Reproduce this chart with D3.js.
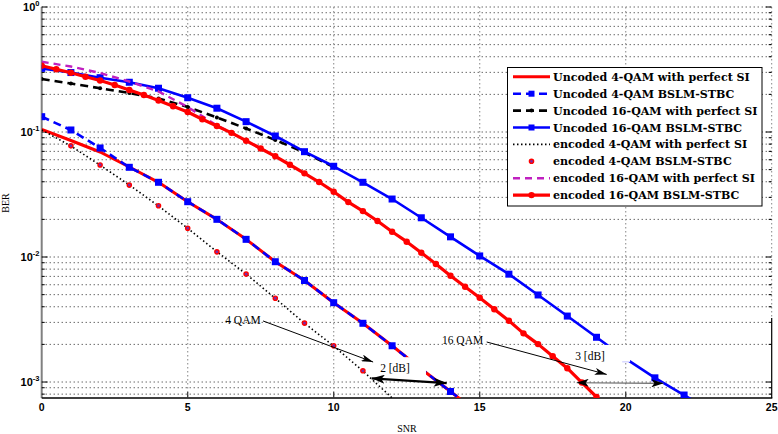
<!DOCTYPE html>
<html><head><meta charset="utf-8">
<script src="https://cdn.jsdelivr.net/npm/d3@7"></script>
<style>body{margin:0;background:#fff}svg{display:block}</style>
</head><body><svg id="c" width="778" height="434"></svg>
<script>
// ---------------- DATA ----------------
const xTicks = [0, 5, 10, 15, 20, 25];
const yMajorTicks = [1e-3, 1e-2, 1e-1, 1];
const yTickExponents = ["-3", "-2", "-1", "0"];

const snrU4 = [0,1,2,3,4,5,6,7,8,9,10,11,12,13,14,15];
const uncoded4PerfectSI = [0.1051,0.0855,0.0692,0.0525,0.0396,0.0277,0.0200,0.01385,0.00917,0.00649,0.00431,0.00295,0.00195,0.00127,0.00084,0.00055];
const uncoded4BSLM = [0.1326,0.1038,0.0745,0.0522,0.0396,0.0277,0.02002,0.01385,0.00917,0.00649,0.00431,0.00295,0.00195,0.00127,0.00084,0.00055];

const snrU16P = [0,1,2,3,4,5,6,7,8,9,10];
const uncoded16PerfectSI = [0.2655,0.2443,0.2237,0.2051,0.1854,0.1585,0.1306,0.1067,0.0863,0.0686,0.0525];

const snrU16B = [0,1,2,3,4,5,6,7,8,9,10,11,12,13,14,15,16,17,18,19,20,21,22,23];
const uncoded16BSLM = [0.323,0.299,0.272,0.250,0.224,0.188,0.155,0.121,0.0929,0.0696,0.0532,0.0396,0.0291,0.0206,0.0145,0.0102,0.00729,0.00497,0.00337,0.00228,0.00154,0.00108,0.000787,0.00057];

const snrE4P = [0,1,2,3,4,5,6,7,8,9,10,11,12];
const encoded4PerfectSI = [0.1038,0.0773,0.0543,0.0377,0.0256,0.01697,0.01102,0.00731,0.00467,0.00295,0.00194,0.001225,0.000745];

const snrE4B = [1,2,3,4,5,6,7,8,9,10,11];
const encoded4BSLM = [0.0775,0.0545,0.0376,0.0257,0.0170,0.0110,0.0073,0.00468,0.00296,0.00195,0.00123];

const snrE16P = [0,1,2,3,4,5,6,7,8];
const encoded16PerfectSI = [0.365,0.334,0.2965,0.2535,0.2109,0.1585,0.113,0.0852,0.0639];

const snrE16B = [0,0.5,1,1.5,2,2.5,3,3.5,4,4.5,5,5.5,6,6.5,7,7.5,8,8.5,9,9.5,10,10.5,11,11.5,12,12.5,13,13.5,14,14.5,15,15.5,16,16.5,17,17.5,18,18.5,19];
const encoded16BSLM = [0.339,0.3174,0.298,0.277,0.258,0.2377,0.2168,0.1977,0.1786,0.1606,0.1445,0.1264,0.1117,0.0985,0.0852,0.0738,0.0639,0.0547,0.0467,0.0398,0.0333,0.0275,0.0233,0.0194,0.01594,0.01326,0.01082,0.00879,0.00709,0.00579,0.00472,0.00382,0.00309,0.00245,0.00201,0.00161,0.00129,0.00099,0.000759];

const legendLabels = ["Uncoded 4-QAM with perfect SI","Uncoded 4-QAM BSLM-STBC","Uncoded 16-QAM with perfect SI","Uncoded 16-QAM BSLM-STBC","encoded 4-QAM with perfect SI","encoded 4-QAM BSLM-STBC","encoded 16-QAM with perfect SI","encoded 16-QAM BSLM-STBC"];

// ---------------- CHART ----------------
const svg = d3.select("#c");
const x = d3.scaleLinear().domain([0, 25]).range([41.7, 771.7]);
const y = d3.scaleLog().domain([7.45e-4, 1]).range([398, 7]);
const X0 = x.range()[0], X1 = x.range()[1], Y0 = y.range()[0], Y1 = y.range()[1];

svg.append("rect").attr("width", 778).attr("height", 434).attr("fill", "#fff");

const defs = svg.append("defs");
defs.append("clipPath").attr("id", "plotclip").append("rect")
  .attr("x", X0).attr("y", Y1).attr("width", X1 - X0).attr("height", Y0 - Y1);
function arrowMarker(id, len, wid, orient) {
  defs.append("marker").attr("id", id).attr("markerUnits", "userSpaceOnUse")
    .attr("markerWidth", len).attr("markerHeight", wid)
    .attr("refX", len).attr("refY", wid / 2).attr("orient", orient)
    .append("path").attr("d", `M0,0 L${len},${wid/2} L0,${wid} L${len*0.25},${wid/2} Z`).attr("fill", "#000");
}
arrowMarker("ah", 12, 7, "auto");
arrowMarker("ahBig", 13, 9, "auto");
arrowMarker("ahBigS", 13, 9, "auto-start-reverse");
arrowMarker("ahMid", 12, 8, "auto");
arrowMarker("ahMidS", 12, 8, "auto-start-reverse");

// grid
const grid = svg.append("g");
grid.selectAll("line.h").data(y.ticks()).join("line")
  .attr("x1", X0).attr("x2", X1).attr("y1", d => y(d)).attr("y2", d => y(d))
  .attr("stroke", "#000").attr("stroke-width", 1).attr("stroke-dasharray", "1,3").attr("opacity", 0.85);
grid.selectAll("line.v").data(xTicks.filter(d => d > 0 && d < 25)).join("line")
  .attr("x1", d => x(d)).attr("x2", d => x(d)).attr("y1", Y1).attr("y2", Y0)
  .attr("stroke", "#999").attr("stroke-width", 1.2).attr("stroke-dasharray", "1.5,2.5");

// axes
const ax = svg.append("g");
ax.append("line").attr("x1", X0).attr("x2", X0).attr("y1", Y1).attr("y2", Y0).attr("stroke", "#808080").attr("stroke-width", 2);
ax.append("line").attr("x1", X1).attr("x2", X1).attr("y1", Y1).attr("y2", 318).attr("stroke", "#888").attr("stroke-width", 1).attr("stroke-dasharray", "1.5,2.5");
ax.append("line").attr("x1", X1).attr("x2", X1).attr("y1", 318).attr("y2", Y0).attr("stroke", "#000").attr("stroke-width", 1.2);
ax.append("line").attr("x1", X0).attr("x2", X1 + 0.6).attr("y1", Y0).attr("y2", Y0).attr("stroke", "#000").attr("stroke-width", 1.5);
// y ticks
ax.selectAll("line.yt").data(y.ticks()).join("line")
  .attr("x1", X0).attr("x2", d => X0 + (yMajorTicks.includes(d) ? 6 : 3))
  .attr("y1", d => y(d)).attr("y2", d => y(d)).attr("stroke", "#000");
ax.selectAll("line.yr").data(y.ticks()).join("line")
  .attr("x1", X1).attr("x2", d => X1 - (yMajorTicks.includes(d) ? 6 : 3))
  .attr("y1", d => y(d)).attr("y2", d => y(d)).attr("stroke", "#000");
ax.selectAll("line.xt").data(xTicks.filter(d => d > 0 && d < 25)).join("line")
  .attr("x1", d => x(d)).attr("x2", d => x(d)).attr("y1", Y0).attr("y2", Y0 - 6)
  .attr("stroke", "#333").attr("stroke-width", 1.2);
// tick labels
ax.selectAll("text.xl").data(xTicks).join("text")
  .attr("x", d => x(d)).attr("y", 411).attr("text-anchor", "middle")
  .attr("font-family", "Liberation Sans, Arial, sans-serif").attr("font-size", 10.5).attr("font-weight", "bold")
  .text(d => d);
const yl = ax.selectAll("text.yl").data(yMajorTicks).join("text")
  .attr("x", 39.5).attr("y", d => y(d) + 4).attr("text-anchor", "end")
  .attr("font-family", "Liberation Sans, Arial, sans-serif").attr("font-weight", "bold");
yl.append("tspan").attr("font-size", 11).text("10");
yl.append("tspan").attr("font-size", 7.5).attr("dy", -5).text((d, i) => yTickExponents[i]);

// axis labels
svg.append("text").attr("x", 407).attr("y", 432).attr("text-anchor", "middle")
  .attr("font-family", "Liberation Serif, serif").attr("font-size", 10).text("SNR");
svg.append("text").attr("transform", "translate(8.5,203) rotate(-90)").attr("text-anchor", "middle")
  .attr("font-family", "Liberation Serif, serif").attr("font-size", 10).text("BER");

// series
const series = [
  {snr: snrU4,  ber: uncoded4PerfectSI,  color: "#ff0000", width: 3,   dash: null,       marker: null},
  {snr: snrU4,  ber: uncoded4BSLM,       color: "#0000ff", width: 2.6, dash: "8,5",      marker: "square"},
  {snr: snrU16P,ber: uncoded16PerfectSI, color: "#000000", width: 2.6, dash: "8,5",      marker: "dot"},
  {snr: snrU16B,ber: uncoded16BSLM,      color: "#0000ff", width: 2.6, dash: null,       marker: "square"},
  {snr: snrE4P, ber: encoded4PerfectSI,  color: "#000000", width: 1.6, dash: "1.5,2.5",  marker: null},
  {snr: snrE4B, ber: encoded4BSLM,       color: "#ff0000", width: 0,   dash: null,       marker: "reddot"},
  {snr: snrE16P,ber: encoded16PerfectSI, color: "#c020c0", width: 2.4, dash: "7,5",      marker: null},
  {snr: snrE16B,ber: encoded16BSLM,      color: "#ff0000", width: 3.2, dash: null,       marker: "circle"}
];

function drawMarker(g, kind, cx, cy, legend) {
  if (kind === "square") {
    const s = legend ? 6 : 7;
    g.append("rect").attr("x", cx - s/2).attr("y", cy - s/2).attr("width", s).attr("height", s).attr("fill", "#0000ff");
  } else if (kind === "circle") {
    g.append("circle").attr("cx", cx).attr("cy", cy).attr("r", 3.2).attr("fill", "#ff0000");
  } else if (kind === "dot") {
    g.append("circle").attr("cx", cx).attr("cy", cy).attr("r", 2).attr("fill", "#000");
  } else if (kind === "reddot") {
    g.append("circle").attr("cx", cx).attr("cy", cy).attr("r", 2.1).attr("fill", "#7a2aa8").attr("stroke", "#ff0000").attr("stroke-width", 1.4);
  }
}

const plot = svg.append("g").attr("clip-path", "url(#plotclip)");
const line = d3.line().x(d => x(d[0])).y(d => y(d[1]));
series.forEach(s => {
  const pts = s.snr.map((v, i) => [v, s.ber[i]]);
  if (s.width > 0) {
    plot.append("path").attr("d", line(pts)).attr("fill", "none")
      .attr("stroke", s.color).attr("stroke-width", s.width)
      .attr("stroke-dasharray", s.dash).attr("stroke-linejoin", "round");
  }
  if (s.marker) {
    const mg = plot.append("g");
    pts.forEach(p => drawMarker(mg, s.marker, x(p[0]), y(p[1]), false));
  }
});

// annotations
const ann = svg.append("g");
function box(s0, s1, b0, b1) {
  ann.append("rect").attr("x", x(s0)).attr("y", y(b0)).attr("width", x(s1) - x(s0)).attr("height", y(b1) - y(b0)).attr("fill", "#fff");
}
box(11.45, 13.16, 0.00158, 0.00110);
box(18.09, 20.15, 0.00198, 0.00145);
const serif = "Liberation Serif, serif";
function label(t, s, b, anchor) {
  ann.append("text").attr("x", x(s)).attr("y", y(b)).attr("text-anchor", anchor)
    .attr("font-family", serif).attr("font-size", 11.5).text(t);
}
label("4 QAM", 7.5, 0.00291, "end");
label("2 [dB]", 12.1, 0.00120, "middle");
label("16 QAM", 15.12, 0.00201, "end");
label("3 [dB]", 18.78, 0.00150, "middle");
function arrow(s0, b0, s1, b1, color, w, mEnd, mStart) {
  const l = ann.append("line").attr("x1", x(s0)).attr("y1", y(b0)).attr("x2", x(s1)).attr("y2", y(b1))
    .attr("stroke", color).attr("stroke-width", w).attr("marker-end", `url(#${mEnd})`);
  if (mStart) l.attr("marker-start", `url(#${mStart})`);
}
arrow(7.58, 0.00308, 11.35, 0.001445, "#000", 1, "ah");
arrow(15.24, 0.00209, 19.35, 0.00115, "#000", 1, "ah");
arrow(11.3, 0.00107, 13.87, 0.00098, "#000", 2.2, "ahBig", "ahBigS");
arrow(18.32, 0.000987, 21.29, 0.000975, "#666", 1.2, "ahMid", "ahMidS");

// legend
const lg = svg.append("g");
lg.append("rect").attr("x", 507.5).attr("y", 67.5).attr("width", 254.5).attr("height", 138.5)
  .attr("fill", "#fff").attr("stroke", "#000").attr("stroke-width", 1);
const rowY = i => 76.8 + i * 16.9;
const texts = [];
series.forEach((s, i) => {
  const cy = rowY(i);
  if (s.width > 0) {
    lg.append("line").attr("x1", 513).attr("x2", 550).attr("y1", cy).attr("y2", cy)
      .attr("stroke", s.color).attr("stroke-width", s.width).attr("stroke-dasharray", s.dash);
  }
  if (s.marker) drawMarker(lg, s.marker, 531.5, cy, true);
  texts.push(lg.append("text").attr("x", 553).attr("y", cy + 4)
    .attr("font-family", "DejaVu Serif, serif").attr("font-weight", "bold").attr("font-size", 10)
    .text(legendLabels[i]));
});
const w0 = texts[0].node().getComputedTextLength();
const fs = 10 * 197 / w0;
texts.forEach(t => t.attr("font-size", fs));
</script></body></html>
